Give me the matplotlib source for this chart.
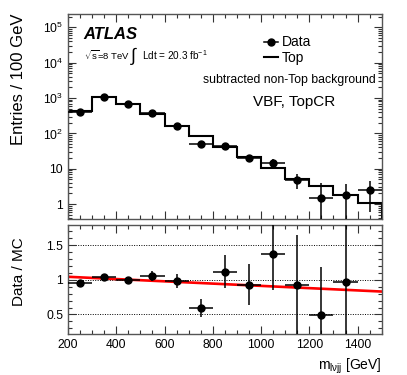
import numpy as np
import matplotlib
matplotlib.use('Agg')
import matplotlib.pyplot as plt
from matplotlib.lines import Line2D
from matplotlib.ticker import MultipleLocator, FixedLocator, FixedFormatter, LogLocator, NullFormatter

plt.rcParams['font.family'] = ['Liberation Sans', 'DejaVu Sans']
plt.rcParams['mathtext.fontset'] = 'custom'
plt.rcParams['mathtext.rm'] = 'Liberation Sans'
plt.rcParams['mathtext.it'] = 'Liberation Sans:italic'
plt.rcParams['mathtext.bf'] = 'Liberation Sans:bold'

# bins of m_lvjj (GeV)
bin_edges = [200, 300, 400, 500, 600, 700, 800, 900, 1000, 1100, 1200, 1300, 1400, 1500]
bin_centers = [250, 350, 450, 550, 650, 750, 850, 950, 1050, 1150, 1250, 1350, 1450]

# upper panel: data (non-Top subtracted) and Top MC
data_vals = [400, 1070, 680, 370, 165, 50, 45, 20.6, 14.6, 4.9, 1.5, 1.8, 2.5]
data_errs = [20, 33, 26, 19, 13, 7, 6.7, 4.5, 3.8, 2.2, 2.4, 1.8, 1.9]
top_vals = [420, 1040, 680, 350, 165, 86, 40.5, 22.2, 10.5, 5.2, 3.2, 1.85, 1.05]

# lower panel: Data / MC
ratio_x = [250, 350, 450, 550, 650, 750, 850, 950, 1050, 1150, 1250, 1350]
ratio_vals = [0.96, 1.04, 1.0, 1.05, 0.985, 0.59, 1.115, 0.93, 1.37, 0.93, 0.485, 0.975]
ratio_errs = [0.03, 0.02, 0.03, 0.07, 0.1, 0.13, 0.24, 0.3, 0.52, 0.72, 0.7, 1.1]

# linear fit to the ratio
fit_x = [200, 1500]
fit_y = [1.043, 0.83]

ytick_vals = [1, 10, 100, 1000, 1e4, 1e5]
ytick_labels = ['1', '10', r'$\mathregular{10^{2}}$', r'$\mathregular{10^{3}}$',
                r'$\mathregular{10^{4}}$', r'$\mathregular{10^{5}}$']

fig = plt.figure(figsize=(4.07, 3.75), dpi=100)
ax1 = fig.add_axes([0.167, 0.416, 0.771, 0.547])
ax2 = fig.add_axes([0.167, 0.109, 0.771, 0.291])

# Top MC histogram
ax1.stairs(top_vals, bin_edges, color='black', lw=1.5, zorder=2)
# data points
ax1.errorbar(bin_centers, data_vals, xerr=50, yerr=data_errs, fmt='o', color='black',
             ms=5, elinewidth=1.1, capsize=0, zorder=3)
ax1.set_yscale('log')
ax1.set_xlim(200, 1500)
ax1.set_ylim(0.38, 2.4e5)
ax1.yaxis.set_major_locator(FixedLocator(ytick_vals))
ax1.yaxis.set_major_formatter(FixedFormatter(ytick_labels))
ax1.yaxis.set_minor_locator(LogLocator(base=10, subs=np.arange(2, 10)))
ax1.yaxis.set_minor_formatter(NullFormatter())
ax1.xaxis.set_major_locator(MultipleLocator(200))
ax1.xaxis.set_minor_locator(MultipleLocator(50))
ax1.tick_params(labelbottom=False)
ax1.set_ylabel('Entries / 100 GeV', fontsize=12, loc='top')

ax1.text(0.048, 0.879, 'ATLAS', transform=ax1.transAxes, fontsize=12,
         fontweight='bold', fontstyle='italic')
ax1.text(0.051, 0.775, r'$\mathregular{\sqrt{s}}$=8 TeV', transform=ax1.transAxes, fontsize=6.8)
ax1.text(0.197, 0.795, r'$\int$', transform=ax1.transAxes, fontsize=13, va='center')
ax1.text(0.236, 0.775, r'Ldt = 20.3 fb$\mathregular{^{-1}}$', transform=ax1.transAxes, fontsize=7.2)

handles = [Line2D([], [], color='black', marker='o', ms=5, lw=1.1),
           Line2D([], [], color='black', lw=1.5)]
ax1.legend(handles, ['Data', 'Top'], loc='upper left', bbox_to_anchor=(0.625, 0.895),
           frameon=False, fontsize=10, handlelength=1.0, handletextpad=0.3,
           labelspacing=0.12, borderpad=0, borderaxespad=0)
ax1.text(0.981, 0.678, 'subtracted non-Top background', transform=ax1.transAxes,
         fontsize=8.8, ha='right', va='center')
ax1.text(0.589, 0.572, 'VBF, TopCR', transform=ax1.transAxes, fontsize=11,
         ha='left', va='center')

# ratio panel
for yv in [0.5, 1.0, 1.5]:
    ax2.axhline(yv, color='black', lw=0.7, ls=(0, (1, 1.5)), zorder=1)
ax2.plot(fit_x, fit_y, color='red', lw=1.9, zorder=2)
ax2.errorbar(ratio_x, ratio_vals, xerr=50, yerr=ratio_errs, fmt='o', color='black',
             ms=5, elinewidth=1.1, capsize=0, zorder=3)
ax2.set_xlim(200, 1500)
ax2.set_ylim(0.216, 1.79)
ax2.xaxis.set_major_locator(MultipleLocator(200))
ax2.xaxis.set_minor_locator(MultipleLocator(50))
ax2.yaxis.set_major_locator(FixedLocator([0.5, 1.0, 1.5]))
ax2.yaxis.set_major_formatter(FixedFormatter(['0.5', '1', '1.5']))
ax2.yaxis.set_minor_locator(MultipleLocator(0.1))
ax2.set_ylabel('Data / MC', fontsize=11)
ax2.set_xlabel(r'$\mathregular{m_{l\nu jj}}$ [GeV]', fontsize=10, loc='right')

for ax in (ax1, ax2):
    ax.tick_params(which='both', direction='in', top=True, right=True, labelsize=8.7,
                   color='#333333', width=0.8)
    ax.tick_params(which='major', length=6)
    ax.tick_params(which='minor', length=3)
    for sp in ax.spines.values():
        sp.set_color('#555555')
        sp.set_linewidth(1.0)

ax1.yaxis.set_label_coords(-0.135, 1.0)
ax2.yaxis.set_label_coords(-0.135, 0.57)

fig.savefig('out.png', dpi=100)
